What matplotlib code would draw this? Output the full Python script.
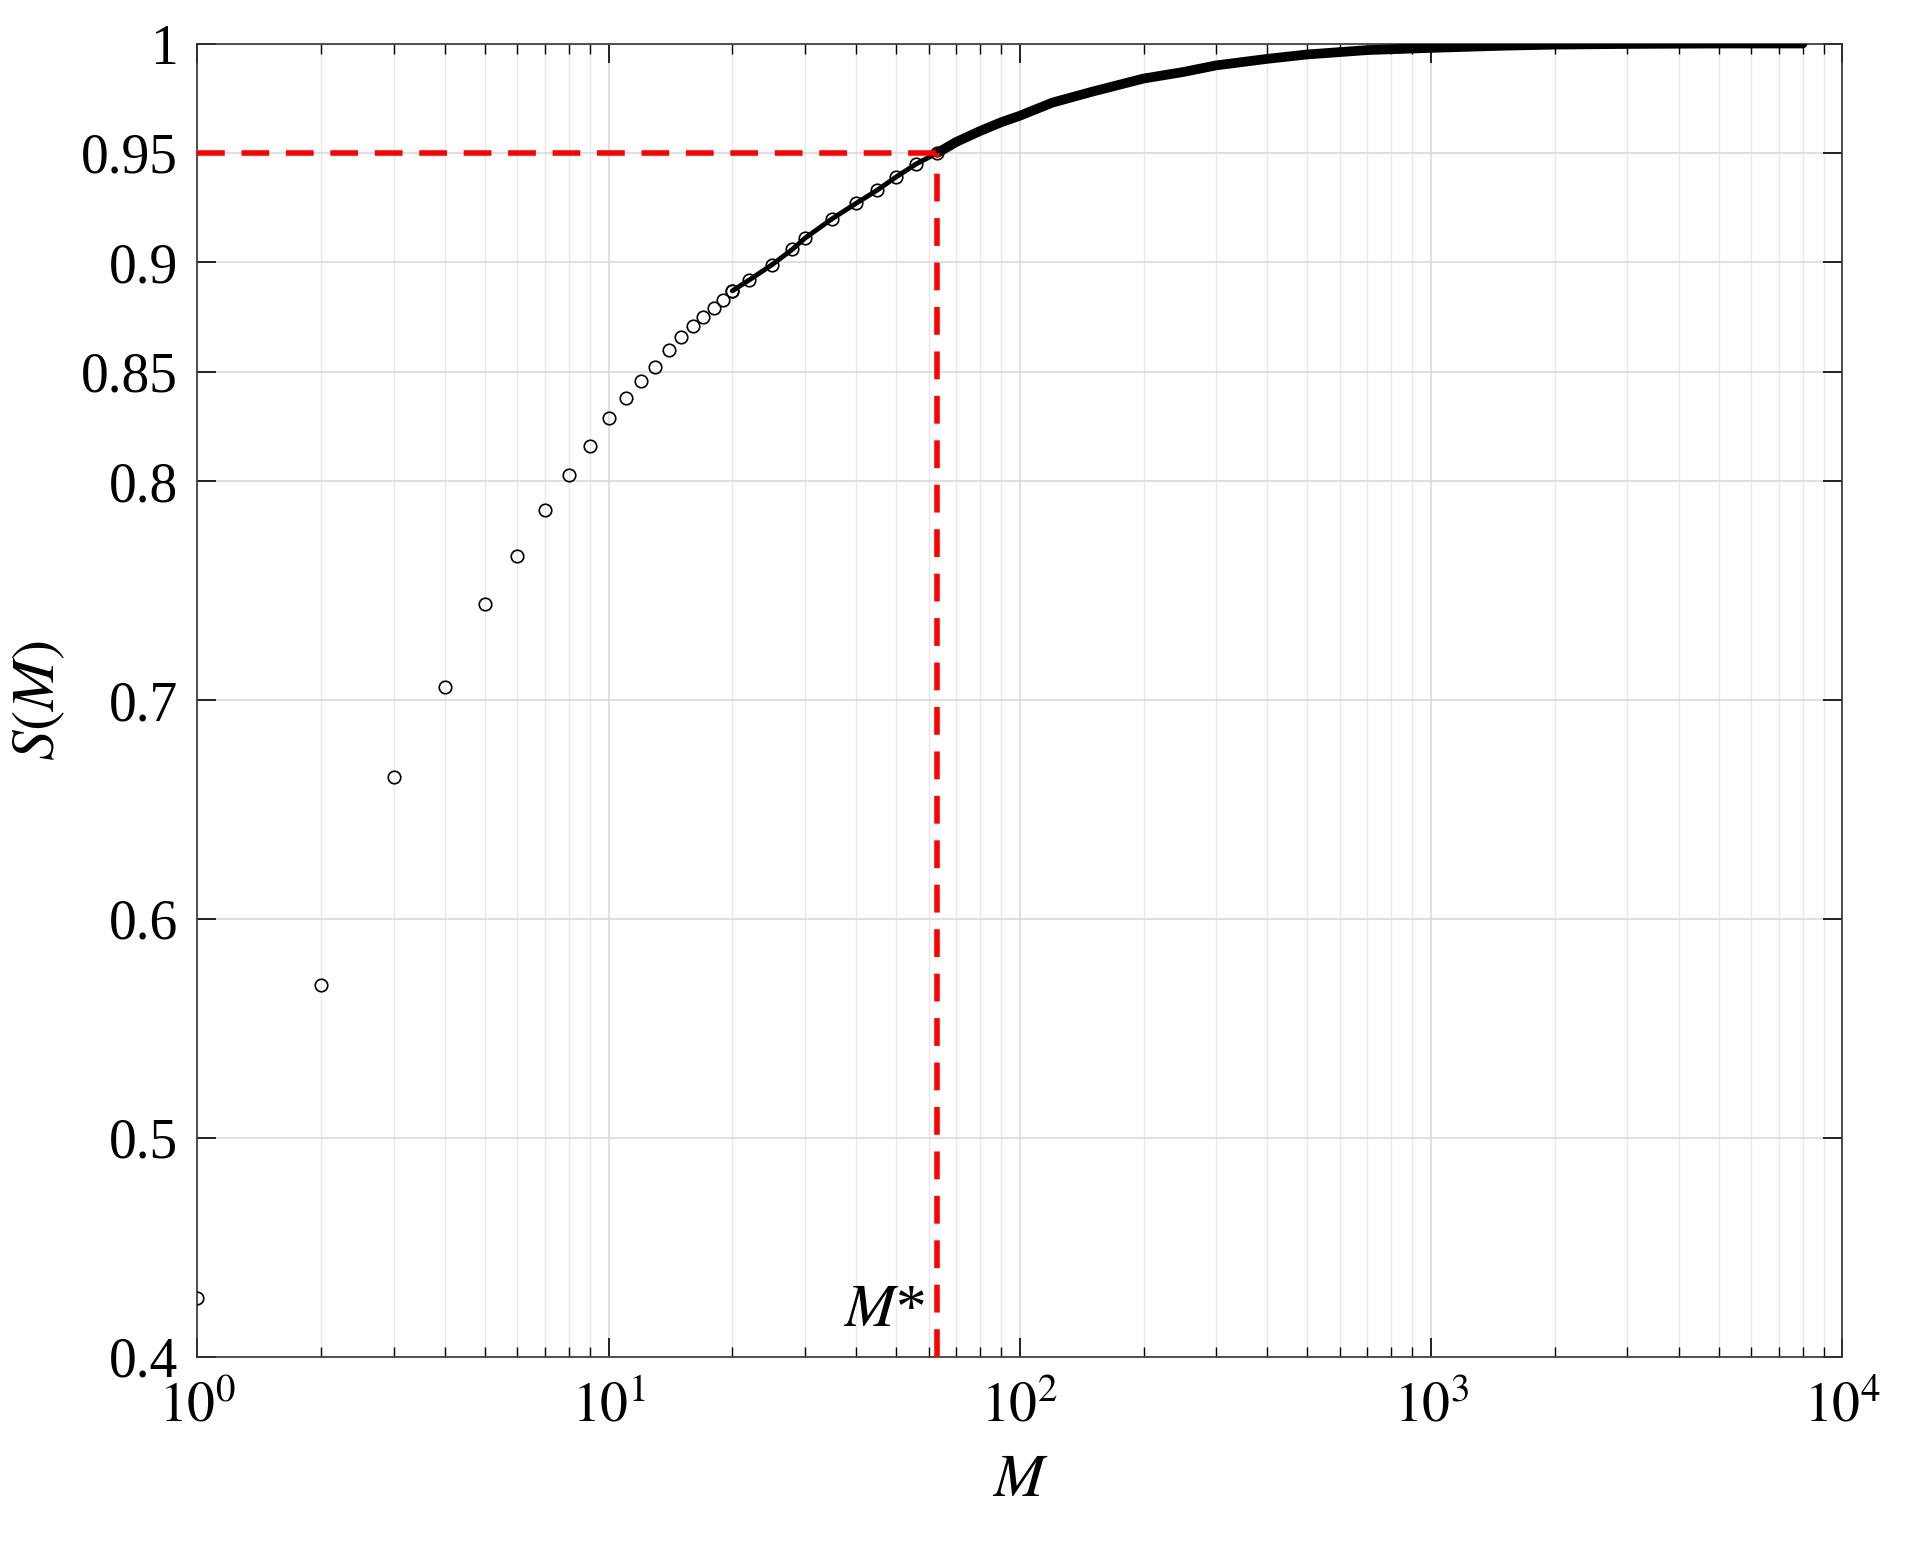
import matplotlib.pyplot as plt
import numpy as np

# individually resolved points (low M)
m_sparse = [1, 2, 3, 4, 5, 6, 7, 8, 9, 10, 11, 12, 13, 14, 15, 16, 17, 18, 19, 20]
s_sparse = [0.427, 0.570, 0.665, 0.706, 0.744, 0.766, 0.787, 0.803, 0.816, 0.829,
            0.838, 0.846, 0.852, 0.860, 0.866, 0.871, 0.875, 0.879, 0.883, 0.887]

# markers still partly separate (M 20..63)
m_mid = [20, 22, 25, 28, 30, 35, 40, 45, 50, 56, 63]
s_mid = [0.887, 0.892, 0.899, 0.906, 0.911, 0.920, 0.927, 0.933, 0.939, 0.945, 0.950]

# dense, fully merged part of the curve
m_dense = [63, 70, 80, 90, 100, 120, 150, 200, 250, 300, 400, 500, 700, 1000,
           1500, 2000, 3000, 5000, 8000]
s_dense = [0.950, 0.955, 0.960, 0.964, 0.967, 0.973, 0.978, 0.984, 0.987, 0.990,
           0.993, 0.995, 0.997, 0.998, 0.9990, 0.9995, 0.9998, 1.0, 1.0]

m_star = 63
s_star = 0.95

plt.rcParams["font.family"] = ["Liberation Serif", "DejaVu Serif"]
plt.rcParams["mathtext.fontset"] = "stix"

fig = plt.figure(figsize=(19.23, 15.54), dpi=100)
ax = fig.add_axes([0.1026, 0.127, 0.8555, 0.845])

ax.plot(m_mid, s_mid, color="black", linewidth=3.5, solid_capstyle="round", zorder=3)
ax.plot(m_mid, s_mid, linestyle="none", marker="o", markersize=9,
        markerfacecolor="none", markeredgecolor="black", markeredgewidth=1.2, zorder=3)
ax.plot(m_dense, s_dense, color="black", linewidth=7, solid_capstyle="round", zorder=3)
ax.plot(m_sparse, s_sparse, linestyle="none", marker="o", markersize=9,
        markerfacecolor="none", markeredgecolor="black", markeredgewidth=1.2, zorder=3)

ax.plot([1, m_star], [s_star, s_star], color="red", linestyle=(0, (5, 3)), linewidth=4, zorder=4)
ax.plot([m_star, m_star], [0.4, s_star], color="red", linestyle=(0, (5, 3)), linewidth=4, zorder=4)
ax.text(m_star * 0.93, 0.408, "$M$*", ha="right", va="bottom", fontsize=44)

ax.set_xscale("log")
ax.set_xlim(1, 1e4)
ax.set_ylim(0.4, 1.0)
ax.set_yticks([0.4, 0.5, 0.6, 0.7, 0.8, 0.85, 0.9, 0.95, 1.0])
ax.set_yticklabels(["0.4", "0.5", "0.6", "0.7", "0.8", "0.85", "0.9", "0.95", "1"])
ax.set_xticks([1, 10, 100, 1000, 10000])
ax.set_xticklabels(["$10^{0}$", "$10^{1}$", "$10^{2}$", "$10^{3}$", "$10^{4}$"])

ax.grid(which="major", color="#d9d9d9", linewidth=1.2)
ax.grid(which="minor", axis="x", color="#e8e8e8", linewidth=1.0)
ax.tick_params(which="both", direction="in", top=True, right=True, labelsize=40)
ax.tick_params(axis="x", pad=18)
ax.tick_params(axis="y", pad=14)
ax.tick_params(which="major", length=14, width=1.2)
ax.tick_params(which="minor", length=7, width=1.0)
for sp in ax.spines.values():
    sp.set_color("#333333")
    sp.set_linewidth(1.2)

ax.set_xlabel("$M$", fontsize=44, labelpad=14)
ax.set_ylabel("$S(M)$", fontsize=44, labelpad=10)

fig.savefig("out.png", dpi=100)
